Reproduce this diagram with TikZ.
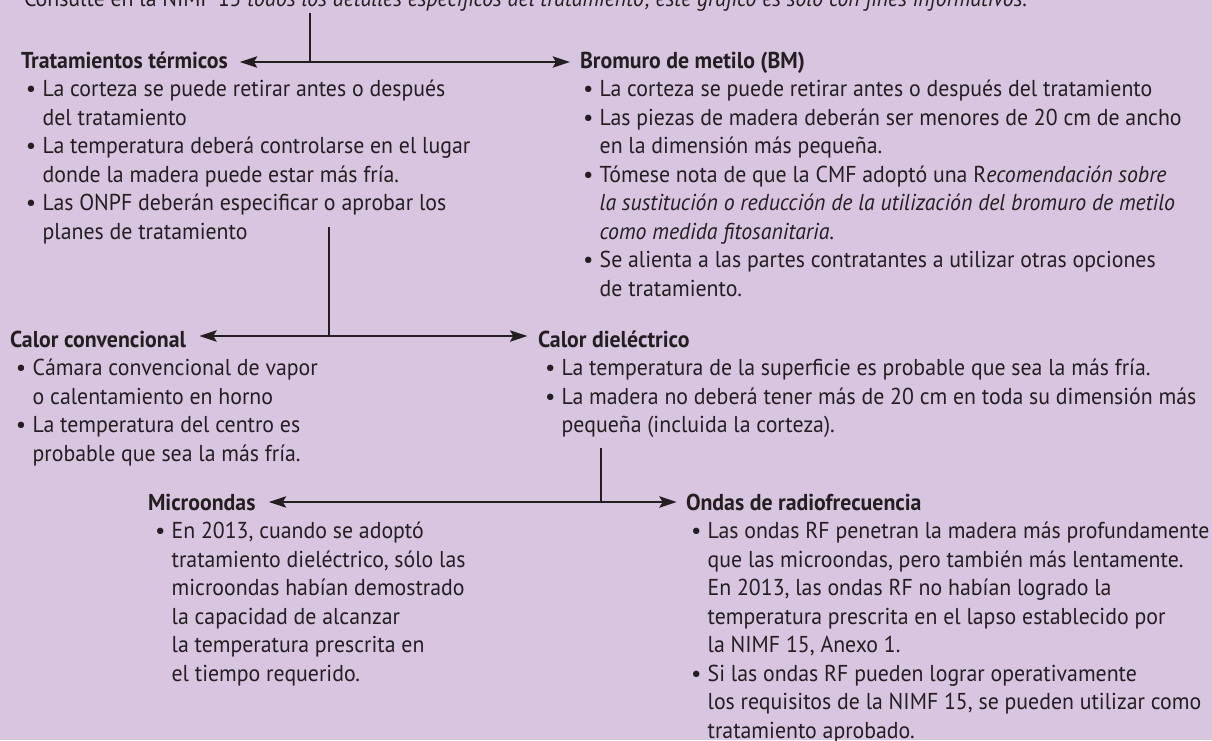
\documentclass[tikz,border=0pt]{standalone}
\usepackage{fontspec}
\setmainfont{PT Sans}
\usepackage{graphicx}
\usetikzlibrary{arrows.meta}
\definecolor{bg}{RGB}{216,197,223}
\definecolor{ink}{RGB}{35,31,32}
\newcommand\bodyfont{\fontsize{17.25pt}{21.375pt}\selectfont}
\newlength\refw
\newcommand\myhs{1}
\newcommand\HS[1]{\scalebox{\myhs}[1]{#1}}
\newcommand\bul[1]{\makebox[12.5pt][l]{\textbullet}\HS{#1}}
\newcommand\cnt[1]{\hspace*{12.5pt}\HS{#1}}
\begin{document}
\settowidth\refw{\bodyfont Las piezas de madera deberán ser menores de 20 cm de ancho}%
\pgfmathsetmacro\myhs{436.5/\refw}%
\begin{tikzpicture}[x=0.75pt,y=-0.75pt,
  ttl/.style={anchor=base west, inner sep=0pt, outer sep=0pt, font=\bodyfont\bfseries, text=ink},
  blk/.style={anchor=base west, inner sep=0pt, outer sep=0pt, font=\bodyfont, text=ink},
  ln/.style={draw=ink, line width=1.5pt},
  arr/.style={ln, -{Stealth[length=13pt,width=8.5pt,inset=2.5pt]}}]
\useasboundingbox (0,0) rectangle (1212,740);
\clip (0,0) rectangle (1212,740);
\fill[bg] (0,0) rectangle (1212,740);

% top note
\node[blk] (note) at (24,6) {\HS{Consulte en la NIMF 15 \textit{todos los detalles específicos del tratamiento; este gráfico es sólo con fines informativos.}}};

% titles
\node[ttl] (tt) at (21,68) {\HS{Tratamientos térmicos}};
\node[ttl] (bm) at (580,68) {\HS{Bromuro de metilo (BM)}};
\node[ttl] (cc) at (10,347) {\HS{Calor convencional}};
\node[ttl] (cd) at (538,347) {\HS{Calor dieléctrico}};
\node[ttl] (mo) at (148,510) {\HS{Microondas}};
\node[ttl] (rf) at (686,510) {\HS{Ondas de radiofrecuencia}};

% bullet blocks
\node[blk] (ttb) at (26,96.5) {\begin{tabular}[t]{@{}l@{}}
\bul{La corteza se puede retirar antes o después}\\
\cnt{del tratamiento}\\
\bul{La temperatura deberá controlarse en el lugar}\\
\cnt{donde la madera puede estar más fría.}\\
\bul{Las ONPF deberán especificar o aprobar los}\\
\cnt{planes de tratamiento}
\end{tabular}};

\node[blk] (bmb) at (583,96.5) {\begin{tabular}[t]{@{}l@{}}
\bul{La corteza se puede retirar antes o después del tratamiento}\\
\bul{Las piezas de madera deberán ser menores de 20 cm de ancho}\\
\cnt{en la dimensión más pequeña.}\\
\bul{Tómese nota de que la CMF adoptó una R\textit{ecomendación sobre}}\\
\cnt{\textit{la sustitución o reducción de la utilización del bromuro de metilo}}\\
\cnt{\textit{como medida fitosanitaria}.}\\
\bul{Se alienta a las partes contratantes a utilizar otras opciones}\\
\cnt{de tratamiento.}
\end{tabular}};

\node[blk] (ccb) at (16,375.5) {\begin{tabular}[t]{@{}l@{}}
\bul{Cámara convencional de vapor}\\
\cnt{o calentamiento en horno}\\
\bul{La temperatura del centro es}\\
\cnt{probable que sea la más fría.}
\end{tabular}};

\node[blk] (cdb) at (545,375.5) {\begin{tabular}[t]{@{}l@{}}
\bul{La temperatura de la superficie es probable que sea la más fría.}\\
\bul{La madera no deberá tener más de 20 cm en toda su dimensión más}\\
\cnt{pequeña (incluida la corteza).}
\end{tabular}};

\node[blk] (mob) at (155,538.5) {\begin{tabular}[t]{@{}l@{}}
\bul{En 2013, cuando se adoptó}\\
\cnt{tratamiento dieléctrico, sólo las}\\
\cnt{microondas habían demostrado}\\
\cnt{la capacidad de alcanzar}\\
\cnt{la temperatura prescrita en}\\
\cnt{el tiempo requerido.}
\end{tabular}};

\node[blk] (rfb) at (691,538.5) {\begin{tabular}[t]{@{}l@{}}
\bul{Las ondas RF penetran la madera más profundamente}\\
\cnt{que las microondas, pero también más lentamente.}\\
\cnt{En 2013, las ondas RF no habían logrado la}\\
\cnt{temperatura prescrita en el lapso establecido por}\\
\cnt{la NIMF 15, Anexo 1.}\\
\bul{Si las ondas RF pueden lograr operativamente}\\
\cnt{los requisitos de la NIMF 15, se pueden utilizar como}\\
\cnt{tratamiento aprobado.}
\end{tabular}};

% connectors
\coordinate (s1) at (310,13);
\coordinate (j1) at (310,62);
\coordinate (s2) at (329,227);
\coordinate (j2) at (329,336);
\coordinate (s3) at (601,448);
\coordinate (j3) at (601,502);

\draw[ln] (s1) -- (j1);
\draw[arr] (j1) -- ([xshift=9pt]tt.east |- j1);
\draw[arr] (j1) -- ([xshift=-7.5pt]bm.west |- j1);

\draw[ln] (s2) -- (j2);
\draw[arr] (j2) -- ([xshift=10pt]cc.east |- j2);
\draw[arr] (j2) -- ([xshift=-8pt]cd.west |- j2);

\draw[ln] (s3) -- (j3);
\draw[arr] (j3) -- ([xshift=10pt]mo.east |- j3);
\draw[arr] (j3) -- ([xshift=-7pt]rf.west |- j3);
\end{tikzpicture}
\end{document}
